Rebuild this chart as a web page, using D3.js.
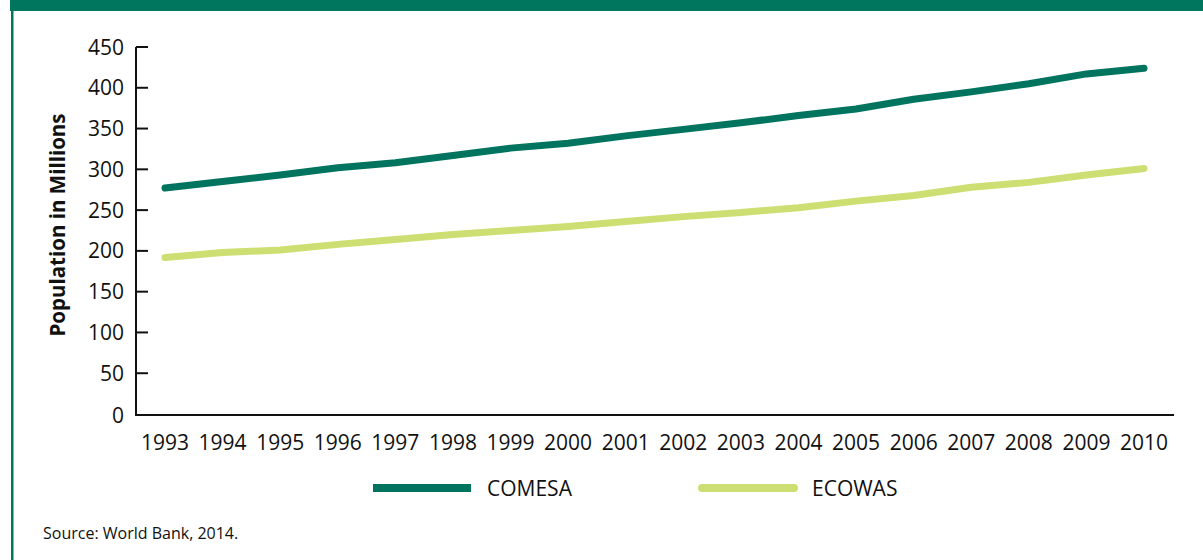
<!DOCTYPE html>
<html>
<head>
<meta charset="utf-8">
<script src="https://cdn.jsdelivr.net/npm/d3@7"></script>
<style>
  html, body { margin: 0; padding: 0; background: #fff; }
  svg { display: block; font-family: "Open Sans", "Liberation Sans", sans-serif; }
</style>
</head>
<body>
<svg id="chart" width="1203" height="560"></svg>
<script>
const years = [1993,1994,1995,1996,1997,1998,1999,2000,2001,2002,2003,2004,2005,2006,2007,2008,2009,2010];
const comesa = [277,285,293,302,308,317,326,332,341,349,357,366,374,386,395,405,417,424];
const ecowas = [192,198,201,208,214,220,225,230,236,242,247,253,261,268,278,284,293,301];
const yTicks = [0,50,100,150,200,250,300,350,400,450];
const seriesNames = ["COMESA", "ECOWAS"];
const seriesColors = ["#00745f", "#cddf72"];
const yTitle = "Population in Millions";
const source = "Source: World Bank, 2014.";

const svg = d3.select("#chart");

// frame: top band and left border
svg.append("rect").attr("x", 10).attr("y", 0).attr("width", 1193).attr("height", 11).attr("fill", "#00765f");
svg.append("rect").attr("x", 11).attr("y", 0).attr("width", 2.5).attr("height", 560).attr("fill", "#00765f");

const x = d3.scalePoint().domain(years).range([165, 1144]);
const y = d3.scaleLinear().domain([0, 450]).range([414, 47]);

// y axis
const yAxis = svg.append("g").attr("transform", "translate(136,0)");
yAxis.append("line").attr("x1", 0).attr("x2", 0).attr("y1", y(450)).attr("y2", 416)
  .attr("stroke", "#111").attr("stroke-width", 2);
yTicks.forEach(t => {
  if (t > 0) {
    yAxis.append("line").attr("x1", 0).attr("x2", 12).attr("y1", y(t)).attr("y2", y(t))
      .attr("stroke", "#111").attr("stroke-width", 2);
  }
  yAxis.append("text").attr("x", -12).attr("y", t === 0 ? 415 : y(t)).attr("dy", "0.36em")
    .attr("text-anchor", "end").attr("font-size", 21).attr("fill", "#111").text(t);
});

// x axis
svg.append("line").attr("x1", 135).attr("x2", 1174).attr("y1", 415).attr("y2", 415)
  .attr("stroke", "#111").attr("stroke-width", 2);
years.forEach(yr => {
  svg.append("text").attr("x", x(yr)).attr("y", 450).attr("text-anchor", "middle")
    .attr("font-size", 21).attr("fill", "#111").text(yr);
});

// y title
svg.append("text").attr("transform", "translate(65,225) rotate(-90)")
  .attr("text-anchor", "middle").attr("font-size", 20.5).attr("font-weight", "bold")
  .attr("fill", "#111").text(yTitle);

// lines
const line = d3.line().x((d, i) => x(years[i])).y(d => y(d));
[comesa, ecowas].forEach((s, i) => {
  svg.append("path").datum(s).attr("d", line).attr("fill", "none")
    .attr("stroke", seriesColors[i]).attr("stroke-width", 7)
    .attr("stroke-linecap", "round").attr("stroke-linejoin", "round");
});

// legend
const legendX = [373, 698];
seriesNames.forEach((n, i) => {
  svg.append("line").attr("x1", legendX[i] + (i === 1 ? 4 : 0)).attr("x2", legendX[i] + (i === 1 ? 96 : 98))
    .attr("y1", 488).attr("y2", 488).attr("stroke", seriesColors[i]).attr("stroke-width", 8)
    .attr("stroke-linecap", i === 1 ? "round" : "butt");
  svg.append("text").attr("x", legendX[i] + 114).attr("y", 496).attr("font-size", 21)
    .attr("fill", "#111").text(n);
});

// source
svg.append("text").attr("x", 43).attr("y", 539).attr("font-size", 16).attr("fill", "#111").text(source);
</script>
</body>
</html>
